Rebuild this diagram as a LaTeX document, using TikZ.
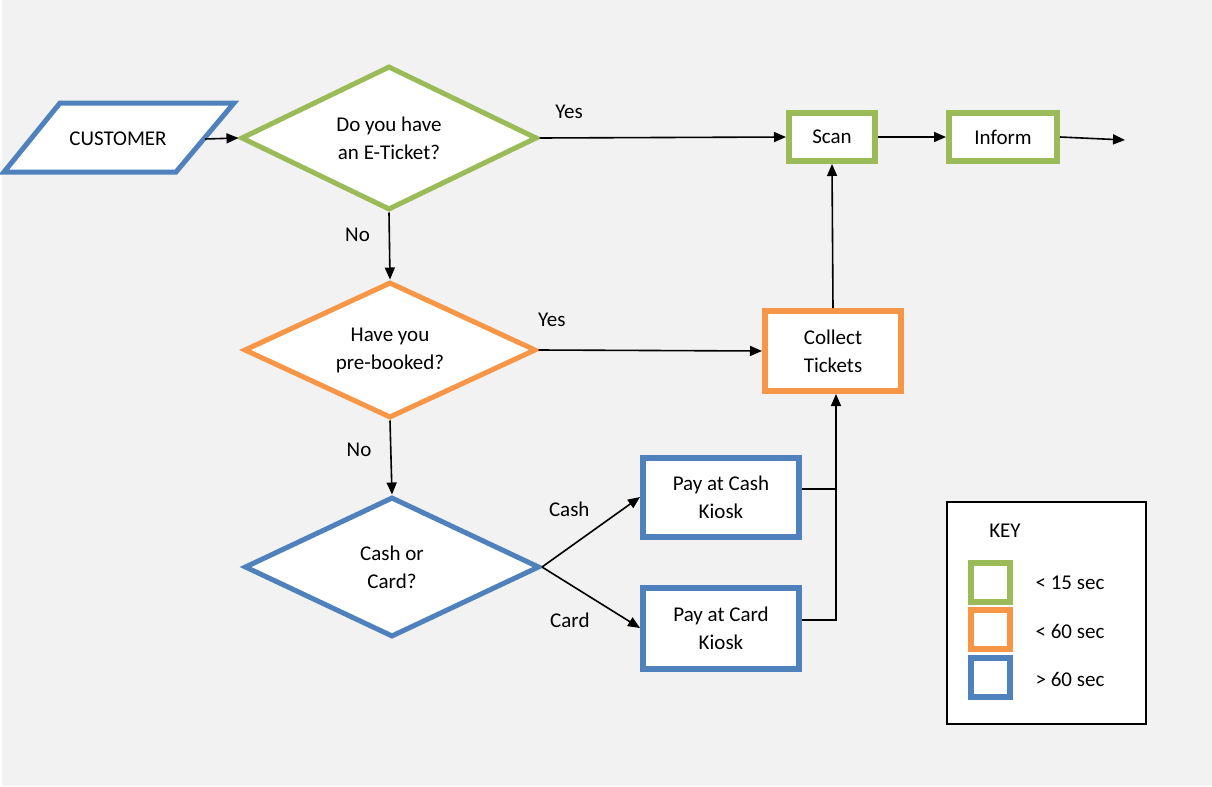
\documentclass[tikz,border=0pt]{standalone}
\usepackage{fontspec}
\setmainfont{Carlito}
\usepackage{tikz}
\usetikzlibrary{arrows.meta,shapes.geometric,positioning}
\definecolor{fastgreen}{HTML}{9BBB59}
\definecolor{midorange}{HTML}{F79646}
\definecolor{slowblue}{HTML}{4F81BD}
\definecolor{paper}{HTML}{F2F2F2}

\begin{document}
\begin{tikzpicture}[x=0.5pt,y=-0.5pt,
    font=\fontsize{10.5}{14}\selectfont,
    decision/.style={diamond, aspect=2, draw=#1, fill=white, line width=2.5pt, align=center, inner sep=0pt},
    stepbox/.style={rectangle, draw=#1, fill=white, line width=3pt, align=center, inner sep=0pt},
    keybox/.style={rectangle, draw=#1, fill=white, line width=3pt, minimum size=19.5pt, inner sep=0pt},
    flow/.style={-{Triangle[length=6pt,width=5pt]}, line width=0.8pt}]
    \useasboundingbox (0,0) rectangle (1212,787);
    \fill[white] (0,0) rectangle (1212,787);
    \fill[paper] (2,0) rectangle (1212,786);

    % Customer (parallelogram)
    \filldraw[draw=slowblue, fill=white, line width=2.5pt, line join=miter]
        (60,103) -- (234,103) -- (176,172) -- (4,172) -- cycle;
    \node (cust) at (118,139) {CUSTOMER};
    \coordinate (custout) at (205,139);

    % Shapes
    \node[decision=fastgreen, minimum width=148pt, minimum height=72pt] (eticket) at (389,138) {Do you have\\an E-Ticket?};
    \node[decision=midorange, minimum width=146pt, minimum height=68pt] (booked) at (390,350) {Have you\\pre-booked?};
    \node[decision=slowblue, minimum width=147.5pt, minimum height=70pt] (payway) at (392,567) {Cash or\\Card?};
    \node[stepbox=fastgreen, minimum width=43pt, minimum height=24pt] (scan) at (832,137) {Scan};
    \node[stepbox=fastgreen, minimum width=54pt, minimum height=24pt] (inform) at (1003,137) {Inform};
    \node[stepbox=midorange, minimum width=68pt, minimum height=40pt] (collect) at (833,351) {Collect\\Tickets};
    \node[stepbox=slowblue, minimum width=78pt, minimum height=39.5pt] (cashk) at (721,497) {Pay at Cash\\Kiosk};
    \node[stepbox=slowblue, minimum width=78pt, minimum height=40.5pt] (cardk) at (721,628) {Pay at Card\\Kiosk};
    \coordinate (exit) at (1125,140);

    % Arrows
    \draw[flow] (custout) -- (eticket.west);
    \draw[flow] (eticket.east) -- node[pos=0.12, above=6pt] (yes1) {Yes} (scan.west);
    \draw[flow] (scan) -- (inform);
    \draw[flow] (inform.east) -- (exit);
    \draw[flow] (eticket.south) -- node[pos=0.33, left=6pt] (no1) {No} (booked.north);
    \draw[flow] (booked.east) -- node[pos=0.06, above=8pt] (yes2) {Yes} (collect.west);
    \draw[flow] (booked.south) -- node[pos=0.4, left=6pt] (no2) {No} (payway.north);
    \draw[flow] (payway.east) -- node[above left=4pt and -3pt] (cashl) {Cash} (cashk.west);
    \draw[flow] (payway.east) -- node[below left=4pt and -3pt] (cardl) {Card} (cardk.west);
    \draw[flow] (collect.north) -- (scan.south);
    \draw[flow] ([yshift=4pt]cardk.east) -| ([xshift=1.5pt]collect.south);
    \draw[line width=0.8pt] ([yshift=4pt]cashk.east) -- ++(34,0);

    % Key
    \node[rectangle, draw=black, fill=white, line width=1pt, minimum width=99.5pt, minimum height=111pt] (key) at (1046.5,613) {};
    \node (keyt) at (1005,531) {KEY};
    \node[keybox=fastgreen] (kg) at (990,582) {};
    \node[keybox=midorange] (ko) at (990,629) {};
    \node[keybox=slowblue] (kb) at (990,677) {};
    \node (kgt) at (1070,583) {< 15 sec};
    \node (kot) at (1070,631) {< 60 sec};
    \node (kbt) at (1070,679) {> 60 sec};
\end{tikzpicture}
\end{document}
